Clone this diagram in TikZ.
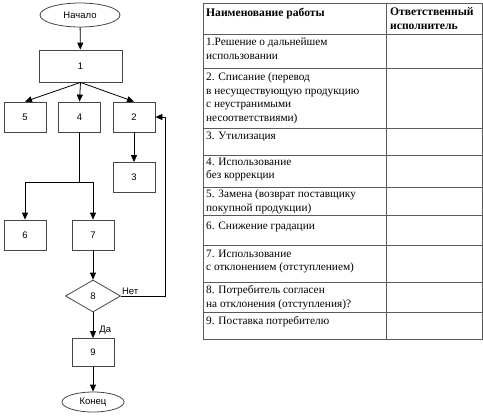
\documentclass[tikz,border=0pt]{standalone}
\usepackage{fontspec}
\setmainfont{Liberation Serif}
\newfontfamily\chartfont{Liberation Sans}
\usetikzlibrary{arrows.meta,shapes.geometric}
\definecolor{BoxClr}{RGB}{70,70,70}
\definecolor{GridClr}{RGB}{90,90,90}

\begin{document}
\begin{tikzpicture}[x=1pt,y=-1pt,
  blk/.style={draw=BoxClr,line width=0.8pt,minimum width=42pt,minimum height=30pt,inner sep=0pt,font=\chartfont\fontsize{9.5}{11}\selectfont},
  term/.style={draw=BoxClr,line width=0.8pt,ellipse,inner sep=0pt,font=\chartfont\fontsize{9.5}{11}\selectfont},
  cond/.style={draw=BoxClr,line width=0.8pt,diamond,minimum width=55pt,minimum height=32pt,inner sep=0pt,font=\chartfont\fontsize{9.5}{11}\selectfont},
  arr/.style={line width=0.8pt,-{Triangle[length=7pt,width=6pt]}},
  lnk/.style={line width=0.8pt},
  tbl/.style={draw=GridClr,line width=0.8pt},
  cell/.style={anchor=north west,inner sep=0pt,align=left,font=\fontsize{11.3}{13.5}\selectfont},
  hcell/.style={cell,font=\bfseries\fontsize{11.6}{13.5}\selectfont}]
\useasboundingbox (0,0) rectangle (483,416);

\node[term,minimum width=80pt,minimum height=24pt] (start) at (80,15) {Начало};
\node[blk,minimum width=83pt,minimum height=32pt] (1) at (80.5,66) {1};
\node[blk] (5) at (25,117) {5};
\node[blk] (4) at (79.5,117) {4};
\node[blk] (2) at (134,117) {2};
\node[blk] (3) at (134,177.5) {3};
\node[blk] (6) at (25,235) {6};
\node[blk] (7) at (93,235) {7};
\node[cond] (8) at (93,296) {8};
\node[blk,minimum height=28pt] (9) at (93,352.5) {9};
\node[term,minimum width=62pt,minimum height=20pt] (end) at (93,402) {Конец};

\coordinate (fork) at (79.5,182);
\coordinate (back) at (165,296);

\draw[arr] (start) -- (1);
\draw[arr] (1.south) -- (5.north);
\draw[arr] (1.south) -- (4.north);
\draw[arr] (1.south) -- (2.north);
\draw[arr] (2) -- (3);
\draw[lnk] (4) -- (fork);
\draw[arr] (fork) -| (6.north);
\draw[arr] (fork) -| (7.north);
\draw[arr] (7) -- (8);
\draw[arr] (8) -- node[pos=0.7,right,inner sep=6pt,font=\chartfont\fontsize{9.5}{11}\selectfont] {Да} (9);
\draw[arr] (8.east) -- (back) |- (2.east);
\node[anchor=south west,inner sep=1pt,font=\chartfont\fontsize{9.5}{11}\selectfont] (no) at (8.east) {Нет};
\draw[arr] (9) -- (end);

\draw[tbl] (203,3) rectangle (482,339);
\draw[tbl] (386,3) -- (386,339);
\foreach \y in {34,68,128,155,187,215,245,282,312}
  \draw[tbl] (203,\y) -- (482,\y);

\node[hcell] (h1) at (206,7.5) {Наименование работы};
\node[hcell] (h2) at (390,7.5) {Ответственный\\исполнитель};
\node[cell] (w1) at (206,38) {1.Решение о дальнейшем\\использовании};
\node[cell] (w2) at (206,72.5) {2. Списание (перевод\\в несуществующую продукцию\\с неустранимыми\\несоответствиями)};
\node[cell] (w3) at (206,131.5) {3. Утилизация};
\node[cell] (w4) at (206,157.5) {4. Использование\\без коррекции};
\node[cell] (w5) at (206,189.5) {5. Замена (возврат поставщику\\покупной продукции)};
\node[cell] (w6) at (206,222) {6. Снижение градации};
\node[cell] (w7) at (206,249.5) {7. Использование\\ с отклонением (отступлением)};
\node[cell] (w8) at (206,285.5) {8. Потребитель согласен\\на отклонения (отступления)?};
\node[cell] (w9) at (206,316.5) {9. Поставка потребителю};
\end{tikzpicture}
\end{document}
